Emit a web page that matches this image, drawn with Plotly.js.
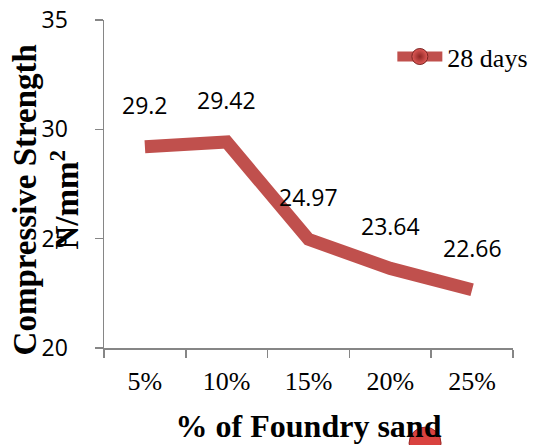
<!DOCTYPE html>
<html>
<head>
<meta charset="utf-8">
<script src="https://cdn.plot.ly/plotly-3.0.1.min.js"></script>
<style>html,body{margin:0;padding:0;background:#fff;}#chart{width:536px;height:445px;}</style>
</head>
<body>
<div id="chart"></div>
<script>
const categories = ["5%", "10%", "15%", "20%", "25%"];
const strength28 = [29.2, 29.42, 24.97, 23.64, 22.66];
const seriesName = "28 days";
const yTicks = [20, 25, 30, 35];

const lineColor = "#C0504D";
const axisColor = "#868686";

const mainTrace = {
  x: categories,
  y: strength28,
  type: "scatter",
  mode: "lines",
  line: {color: lineColor, width: 13},
  showlegend: false,
  hoverinfo: "skip"
};
const legendTrace = {
  x: [null],
  y: [null],
  type: "scatter",
  mode: "lines+markers",
  name: seriesName,
  line: {color: lineColor, width: 11},
  marker: {size: 20, color: "#E05A57", gradient: {type: "radial", color: "#8E2624"}, line: {color: "#7A2422", width: 1}},
  showlegend: true
};

const labelAnnotations = categories.map((c, i) => ({
  x: c, y: strength28[i], xref: "x", yref: "y",
  text: String(strength28[i]),
  showarrow: false, yshift: 42, xanchor: "center", yanchor: "middle",
  font: {family: "Open Sans", size: 23, color: "#000"}
}));

const layout = {
  width: 536, height: 445,
  margin: {l: 104, r: 23, t: 20, b: 97, autoexpand: false},
  paper_bgcolor: "#fff", plot_bgcolor: "#fff",
  showlegend: true,
  legend: {
    x: 0.705, y: 0.96, xanchor: "left", yanchor: "top",
    font: {family: "Liberation Serif", size: 26, color: "#000"},
    bgcolor: "rgba(0,0,0,0)", itemwidth: 45
  },
  xaxis: {
    type: "category", range: [-0.5, 4.5],
    showline: true, linecolor: axisColor, linewidth: 1.5,
    ticks: "outside", tickson: "boundaries", ticklen: 8, tickcolor: axisColor, tickwidth: 1.5,
    ticklabelstandoff: 9,
    showgrid: false, zeroline: false,
    tickfont: {family: "Liberation Serif", size: 26, color: "#000"},
    title: {text: "% of Foundry sand", font: {family: "Liberation Serif", size: 32, weight: "bold", color: "#000"}, standoff: 20}
  },
  yaxis: {
    range: [20, 35], tickvals: yTicks,
    showline: true, linecolor: axisColor, linewidth: 1.5,
    ticks: "outside", ticklen: 8, tickcolor: axisColor, tickwidth: 1.5,
    ticklabelstandoff: 22,
    showgrid: false, zeroline: false,
    tickfont: {family: "Open Sans", size: 23, color: "#000"}
  },
  annotations: labelAnnotations.concat([{
    xref: "paper", yref: "paper", x: 0, y: 0.45, xshift: -58,
    xanchor: "center", yanchor: "middle", textangle: -90, showarrow: false,
    text: "Compressive Strength<br>N/mm<sup>2</sup>", align: "center",
    font: {family: "Liberation Serif", size: 33, weight: "bold", color: "#000"}
  }]),
  shapes: [{
    type: "circle", xref: "paper", yref: "paper",
    xsizemode: "pixel", ysizemode: "pixel",
    xanchor: 0.785, yanchor: -0.29,
    x0: -16, x1: 16, y0: -16, y1: 16,
    fillcolor: "#D9423F", line: {color: "#9A2A28", width: 1}, layer: "above"
  }]
};

Plotly.newPlot("chart", [mainTrace, legendTrace], layout, {displayModeBar: false, staticPlot: true});
</script>
</body>
</html>
